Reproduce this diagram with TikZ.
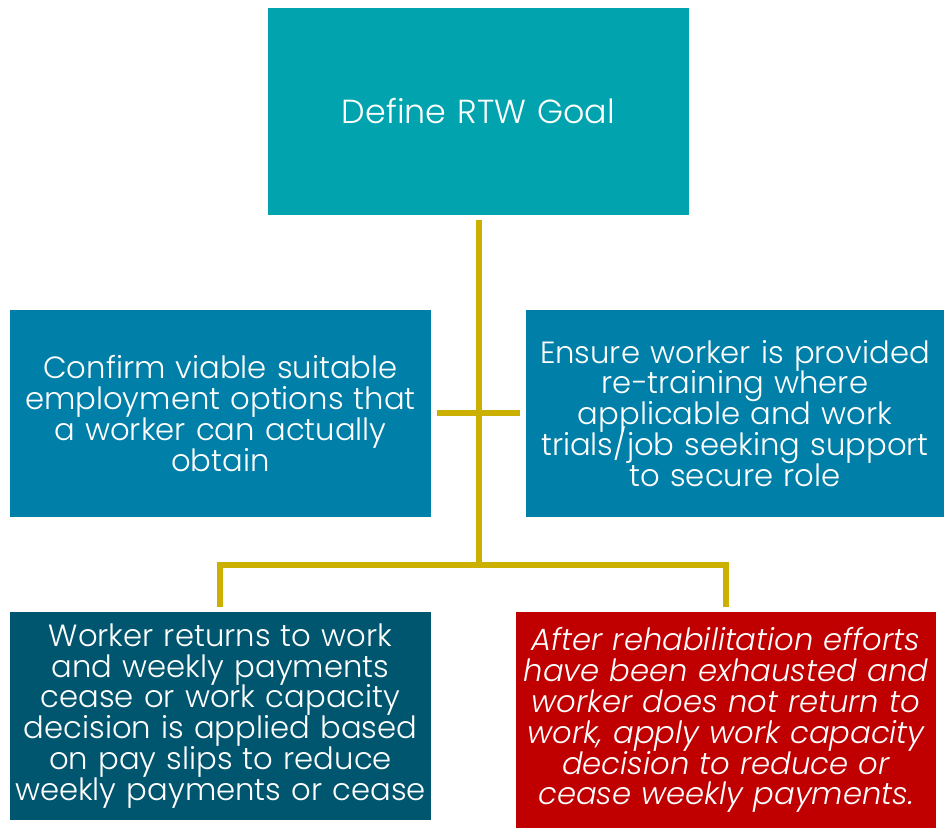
\documentclass[tikz,border=0pt]{standalone}
\usepackage{fontspec}
\setmainfont{Poppins}[UprightFont=* Light, ItalicFont=* Light Italic]
\definecolor{topteal}{HTML}{00A3AE}
\definecolor{midblue}{HTML}{0080A8}
\definecolor{darkteal}{HTML}{00566F}
\definecolor{redbox}{HTML}{C00000}
\definecolor{gold}{HTML}{CCB000}
\newcommand{\boxfont}{\fontsize{23}{23.2}\selectfont\lineskiplimit=-50pt\relax\lineskip=0pt\relax}
\tikzset{
  box/.style={draw=none, inner sep=0pt, outer sep=0pt, text=white, align=center,
    font=\boxfont, anchor=north west},
  link/.style={draw=gold, line width=4.5pt},
}
\begin{document}
\begin{tikzpicture}[x=0.75pt,y=-0.75pt]
\useasboundingbox (0,0) rectangle (944,828);
\node[box, fill=topteal, minimum width=421*0.75pt, minimum height=207*0.75pt, text width=400*0.75pt, font=\fontsize{25}{26}\selectfont] (goal) at (268,8) {Define RTW Goal};
\node[box, fill=midblue, minimum width=421*0.75pt, minimum height=207*0.75pt, text width=421*0.75pt] (confirm) at (10,310) {Confirm viable suitable\\employment options that\\a worker can actually\\obtain};
\node[box, fill=midblue, minimum width=418*0.75pt, minimum height=207*0.75pt, text width=418*0.75pt] (ensure) at (526,310) {Ensure worker is provided\\re-training where\\applicable and work\\trials/job seeking support\\to secure role};
\node[box, fill=darkteal, minimum width=421*0.75pt, minimum height=208*0.75pt, text width=421*0.75pt] (returns) at (10,612) {Worker returns to work\\and weekly payments\\cease or work capacity\\decision is applied based\\on pay slips to reduce\\weekly payments or cease};
\node[box, fill=redbox, minimum width=420*0.75pt, minimum height=216*0.75pt, text width=420*0.75pt, font=\boxfont\itshape] (after) at (516,612) {After rehabilitation efforts\\have been exhausted and\\worker does not return to\\work, apply work capacity\\decision to reduce or\\cease weekly payments.};
\coordinate (vtop) at (479,220);
\coordinate (vbot) at (479,565);
\coordinate (tl) at (437,413);
\coordinate (tr) at (520,413);
\coordinate (bl) at (220,565);
\coordinate (br) at (726,565);
\coordinate (blend) at (220,607);
\coordinate (brend) at (726,607);
\draw[link] (vtop) -- (vbot);
\draw[link] (tl) -- (tr);
\draw[link] (blend) -- (bl) -- (br) -- (brend);
\end{tikzpicture}
\end{document}
